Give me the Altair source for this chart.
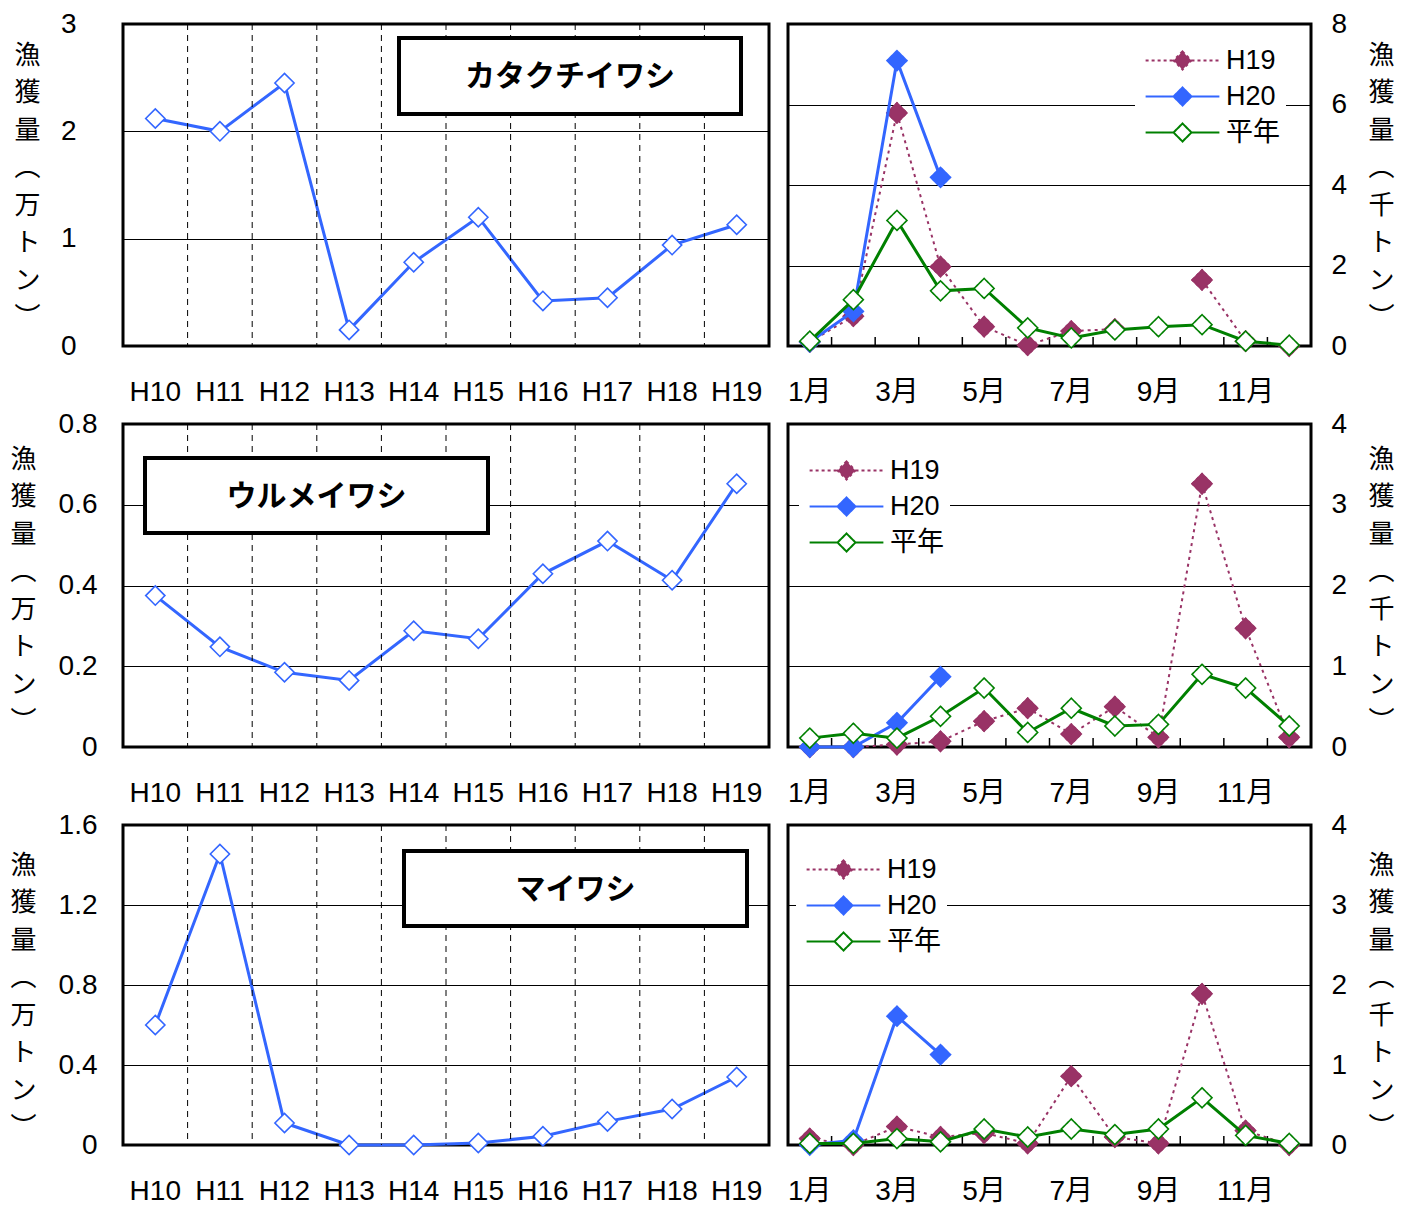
import altair as alt
import pandas as pd

# ---------------- data ----------------
years = ["H10", "H11", "H12", "H13", "H14", "H15", "H16", "H17", "H18", "H19"]
kata_year = [2.12, 2.00, 2.45, 0.15, 0.78, 1.20, 0.42, 0.45, 0.94, 1.13]
urume_year = [0.375, 0.248, 0.185, 0.165, 0.288, 0.268, 0.429, 0.51, 0.413, 0.652]
mai_year = [0.60, 1.455, 0.11, 0.0, 0.0, 0.01, 0.044, 0.118, 0.18, 0.34]

months = list(range(1, 13))
series = ["H19", "H20", "平年"]

kata_h19 = [0.1, 0.74, 5.79, 1.97, 0.48, 0.02, 0.37, 0.42, None, 1.64, 0.12, 0.0]
kata_h20 = [0.1, 0.86, 7.09, 4.19, None, None, None, None, None, None, None, None]
kata_avg = [0.12, 1.15, 3.12, 1.37, 1.43, 0.45, 0.2, 0.40, 0.48, 0.53, 0.12, 0.02]

urume_h19 = [0.0, 0.0, 0.03, 0.07, 0.32, 0.48, 0.16, 0.5, 0.12, 3.26, 1.47, 0.12]
urume_h20 = [0.0, 0.0, 0.3, 0.87, None, None, None, None, None, None, None, None]
urume_avg = [0.11, 0.17, 0.11, 0.38, 0.73, 0.18, 0.48, 0.26, 0.28, 0.9, 0.73, 0.26]

mai_h19 = [0.08, 0.0, 0.23, 0.1, 0.15, 0.02, 0.86, 0.1, 0.02, 1.89, 0.18, 0.0]
mai_h20 = [0.0, 0.06, 1.61, 1.13, None, None, None, None, None, None, None, None]
mai_avg = [0.02, 0.02, 0.08, 0.04, 0.2, 0.1, 0.2, 0.13, 0.2, 0.59, 0.12, 0.02]

species = ["カタクチイワシ", "ウルメイワシ", "マイワシ"]

# ---------------- style ----------------
PURPLE = "#993366"
BLUE = "#3366FF"
GREEN = "#008000"
NUM_FONT = "Liberation Sans Narrow, Liberation Sans, Noto Sans CJK JP"
JP_FONT = "Noto Sans CJK JP"
LEFT_TITLE = ["漁", "獲", "量", "︵", "万", "ト", "ン", "︶"]
RIGHT_TITLE = ["漁", "獲", "量", "︵", "千", "ト", "ン", "︶"]
LEGEND_PATH = "M-4.1,0H-1M0,-1L1,0L0,1L-1,0ZM1,0H4.1"
LW = 646   # left plot width
RW = 523   # right plot width


def month_df(h19, h20, avg):
    rows = []
    for name, vals in zip(series, [h19, h20, avg]):
        seg = 0
        for m, v in zip(months, vals):
            if v is None:
                seg += 1
                continue
            rows.append({"m": m, "s": name, "v": v, "seg": f"{name}-{seg}"})
    return pd.DataFrame(rows)


def left_panel(vals, ymax, yvals, H, title_x, title_y, label_pad, box, name):
    W = LW
    df = pd.DataFrame({"y": years, "v": vals})
    xscale = alt.Scale(domain=years, paddingInner=0, paddingOuter=0)
    x = alt.X(
        "y:N", sort=years, scale=xscale,
        axis=alt.Axis(
            title=None, grid=False, ticks=False, domain=False, labelPadding=32,
            labelFont=NUM_FONT, labelFontSize=28, labelColor="black", labelAngle=0,
        ),
    )
    y = alt.Y(
        "v:Q",
        scale=alt.Scale(domain=[0, ymax], nice=False, zero=True),
        axis=alt.Axis(
            orient="left", values=yvals, format="~g", grid=True, gridColor="black",
            gridWidth=1, ticks=False, domain=False, labelPadding=label_pad,
            labelFont=NUM_FONT, labelFontSize=28, labelColor="black",
            title=LEFT_TITLE, titleAngle=0, titleX=title_x, titleY=title_y,
            titleAlign="center", titleBaseline="top", titleFont=JP_FONT,
            titleFontSize=26, titleFontWeight="normal", titleLineHeight=37.5,
            titleColor="black",
        ),
    )
    base = alt.Chart(df)
    line = base.mark_line(color=BLUE, strokeWidth=3).encode(x=x, y=y)
    dashes = base.mark_rule(color="black", strokeWidth=1, strokeDash=[6, 5],
                            xOffset=-W / 20).encode(
        x=x, y=alt.value(0), y2=alt.value(H))
    pts = base.mark_point(shape="diamond", size=370, fill="white", filled=False,
                          stroke=BLUE, strokeWidth=1.6, opacity=1).encode(x=x, y=y)
    bdf = pd.DataFrame({"name": [name]})
    bx1, by1, bx2, by2 = box
    rect = alt.Chart(bdf).mark_rect(fill="white", stroke="black", strokeWidth=4).encode(
        x=alt.value(bx1), x2=alt.value(bx2), y=alt.value(by1), y2=alt.value(by2))
    txt = alt.Chart(bdf).mark_text(font=JP_FONT, fontSize=30, fontWeight="bold",
                                   align="center", baseline="middle", color="black").encode(
        x=alt.value((bx1 + bx2) / 2), y=alt.value((by1 + by2) / 2 + 1), text="name:N")
    return alt.layer(line, dashes, pts, rect, txt).properties(width=W, height=H)


def right_panel(h19, h20, avg, ymax, yvals, H, lx, ly, title_y):
    W = RW
    df = month_df(h19, h20, avg)
    mdf = pd.DataFrame({"m": months})
    xscale = alt.Scale(domain=months, paddingInner=0, paddingOuter=0)
    x = alt.X(
        "m:O", scale=xscale,
        axis=alt.Axis(
            title=None, grid=False, ticks=False, domain=False, labelPadding=32,
            labelFont=NUM_FONT, labelFontSize=28, labelColor="black", labelAngle=0,
            labelExpr="datum.value % 2 == 1 ? datum.value + '月' : ''",
        ),
    )
    y = alt.Y(
        "v:Q",
        scale=alt.Scale(domain=[0, ymax], nice=False, zero=True),
        axis=alt.Axis(
            orient="right", values=yvals, format="~g", grid=True, gridColor="black",
            gridWidth=1, ticks=False, domain=False, labelPadding=20,
            labelFont=NUM_FONT, labelFontSize=28, labelColor="black",
            title=RIGHT_TITLE, titleAngle=0, titleX=70, titleY=title_y,
            titleAlign="center", titleBaseline="top", titleFont=JP_FONT,
            titleFontSize=26, titleFontWeight="normal", titleLineHeight=37.5,
            titleColor="black",
        ),
    )
    leg = alt.Legend(
        title=None, orient="none", legendX=lx, legendY=ly, symbolType=LEGEND_PATH,
        symbolSize=324, symbolStrokeWidth=2, symbolOffset=28, labelOffset=30,
        labelFont=NUM_FONT, labelFontSize=27, labelColor="black", rowPadding=8,
        fillColor="white", padding=6,
    )
    stroke = alt.Stroke("s:N", scale=alt.Scale(domain=series, range=[PURPLE, BLUE, GREEN]), legend=leg)
    fill = alt.Fill("s:N", scale=alt.Scale(domain=series, range=[PURPLE, BLUE, "white"]), legend=leg)
    dash = alt.StrokeDash("s:N", scale=alt.Scale(domain=series, range=[[3, 3], [1, 0], [1, 0]]), legend=leg)

    base = alt.Chart(df)
    ticks = alt.Chart(mdf).mark_rule(color="black", strokeWidth=1.5, xOffset=-W / 24).encode(
        x=x, y=alt.value(H - 9), y2=alt.value(H))
    styles = {
        "H19": dict(color=PURPLE, strokeWidth=2, strokeDash=[3, 4]),
        "H20": dict(color=BLUE, strokeWidth=3),
        "平年": dict(color=GREEN, strokeWidth=3),
    }
    layers = [ticks]
    for s in series:
        sub = base.transform_filter(alt.datum.s == s)
        layers.append(sub.mark_line(**styles[s]).encode(x=x, y=y, detail="seg:N"))
        layers.append(sub.mark_point(shape="diamond", size=400, strokeWidth=1.6, opacity=1)
                      .encode(x=x, y=y, stroke=stroke, fill=fill, strokeDash=dash))
        if s == "H19":
            # solid outline over the dashed one, so the marker edge looks clean
            layers.append(sub.mark_point(shape="diamond", size=400, strokeWidth=1.6, opacity=1,
                                         filled=False, stroke=PURPLE, fill=PURPLE)
                          .encode(x=x, y=y))
    return alt.layer(*layers).properties(width=W, height=H)


res = dict(stroke="independent", fill="independent", strokeDash="independent")

row1 = alt.hconcat(
    left_panel(kata_year, 3, [0, 1, 2, 3], 322, -96, 18, 47, (276, 14, 618, 90), species[0]),
    right_panel(kata_h19, kata_h20, kata_avg, 8, [0, 2, 4, 6, 8], 322, 347, 17, 18),
    spacing=14,
).resolve_scale(**res).resolve_legend(**res)
row2 = alt.hconcat(
    left_panel(urume_year, 0.8, [0, 0.2, 0.4, 0.6, 0.8], 323, -100, 22, 26, (22, 34, 365, 109), species[1]),
    right_panel(urume_h19, urume_h20, urume_avg, 4, [0, 1, 2, 3, 4], 323, 11, 27, 22),
    spacing=14,
).resolve_scale(**res).resolve_legend(**res)
row3 = alt.hconcat(
    left_panel(mai_year, 1.6, [0, 0.4, 0.8, 1.2, 1.6], 320, -100, 27, 26, (281, 26, 624, 101), species[2]),
    right_panel(mai_h19, mai_h20, mai_avg, 4, [0, 1, 2, 3, 4], 320, 8, 25, 27),
    spacing=14,
).resolve_scale(**res).resolve_legend(**res)

chart = (
    alt.vconcat(row1, row2, row3, spacing=0)
    .resolve_scale(**res)
    .resolve_legend(**res)
    .properties(padding=0, background="white")
    .configure_view(stroke="black", strokeWidth=3)
)

chart.save("out.html", embed_options={"renderer": "svg", "actions": False})
